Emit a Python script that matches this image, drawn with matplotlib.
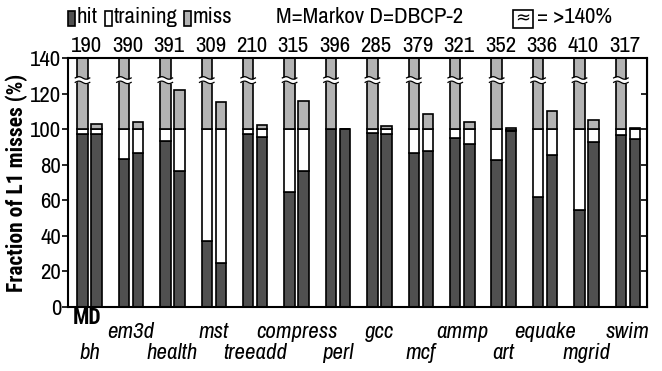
import numpy as np
import matplotlib
matplotlib.use('Agg')
import matplotlib.pyplot as plt
from matplotlib.patches import Rectangle

plt.rcParams['font.family'] = ['Archivo Narrow', 'Liberation Sans', 'DejaVu Sans']
BOLD_FAM = ['Roboto Condensed', 'PT Sans Narrow', 'Liberation Sans']

# ── data ─────────────────────────────────────────────
names = ["bh", "em3d", "health", "mst", "treeadd", "compress", "perl",
         "gcc", "mcf", "ammp", "art", "equake", "mgrid", "swim"]
m_total = [190, 390, 391, 309, 210, 315, 396, 285, 379, 321, 352, 336, 410, 317]
m_hit = [97.5, 83, 93.5, 37, 97.5, 64.5, 100, 98, 86.5, 95, 82.5, 62, 54.5, 96.5]
m_train = [2.5, 17, 6.5, 63, 2.5, 35.5, 0, 2, 13.5, 5, 17.5, 38, 45.5, 3.5]
d_hit = [97.5, 86.5, 76.5, 25, 95.5, 76.5, 100, 97.5, 87.5, 91.5, 99, 85.5, 92.5, 94.5]
d_train = [2.5, 13.5, 23.5, 75, 4.5, 23.5, 0, 2.5, 12.5, 8.5, 0.5, 14.5, 7.5, 5.5]
d_miss = [3, 4, 22, 15.5, 2.5, 16, 0, 1.7, 8.7, 4, 1.2, 10.2, 5, 0.6]

YMAX = 140
HIT_C = '#505050'
TRAIN_C = 'white'
MISS_C = '#b3b3b3'
FS = 16.5

W, H = 662, 371
fig = plt.figure(figsize=(W / 100, H / 100), dpi=100)
ax = fig.add_axes([68 / W, 1 - 307 / H, (647 - 68) / W, (307 - 58) / H])

x = np.arange(len(names))
off, bw = 0.17, 0.25
m_hit = np.array(m_hit)
m_train = np.array(m_train)
m_miss = np.array(m_total) - m_hit - m_train
d_hit = np.array(d_hit)
d_train = np.array(d_train)
d_miss = np.array(d_miss)

kw = dict(width=bw, edgecolor='black', linewidth=1.2, zorder=2)
for pos, hit, tr, ms in [(x - off, m_hit, m_train, m_miss), (x + off, d_hit, d_train, d_miss)]:
    ax.bar(pos, hit, color=HIT_C, **kw)
    ax.bar(pos, tr, bottom=hit, color=TRAIN_C, **kw)
    ax.bar(pos, ms, bottom=hit + tr, color=MISS_C, **kw)

# break marks on the clipped M bars
for xc in x - off:
    xs = np.linspace(xc - bw * 0.7, xc + bw * 0.7, 30)
    wave = 0.7 * np.sin((xs - xs[0]) / (xs[-1] - xs[0]) * 2 * np.pi)
    lo = 126.3 + wave
    hi = 128.8 + wave
    ax.fill_between(xs, lo, hi, color='white', zorder=3, linewidth=0)
    ax.plot(xs, lo, color='black', lw=0.9, zorder=4)
    ax.plot(xs, hi, color='black', lw=0.9, zorder=4)

ax.set_xlim(-0.52, 13.46)
ax.set_ylim(0, YMAX)
ax.set_yticks(range(0, 141, 20))
ax.tick_params(axis='y', direction='out', length=4, width=1.2, labelsize=FS, pad=1)
ax.set_xticks([])
for s in ax.spines.values():
    s.set_linewidth(1.5)
sec = ax.secondary_yaxis('right')
sec.set_yticks(range(0, 141, 20))
sec.tick_params(direction='in', length=4, width=1.2, labelright=False)

ax.set_ylabel('Fraction of L1 misses (%)', fontsize=15.5, fontweight='bold',
              family=BOLD_FAM, labelpad=1)

# totals above the plot
for xi, t in zip(x, m_total):
    ax.text(xi - 0.08, YMAX + 1.0, str(t), ha='center', va='bottom', fontsize=FS)

# benchmark names, two staggered rows
tr = ax.get_xaxis_transform()
ax.text(-0.05, -0.045, 'MD', transform=tr, ha='center', va='center',
        fontsize=15.5, fontweight='bold', family=BOLD_FAM)
for xi, n in zip(x, names):
    yy = -0.185 if xi % 2 == 0 else -0.10
    ax.text(xi, yy, n, transform=tr, ha='center', va='center', fontsize=FS, style='italic')

# legend row
def fx(px):
    return px / W

def fy(py):
    return 1 - py / H

ytxt = fy(17)
for x0, col, lab in [(68, HIT_C, 'hit'), (105, TRAIN_C, 'training'), (184, MISS_C, 'miss')]:
    fig.patches.append(Rectangle((fx(x0), fy(26)), fx(7), 15 / H, facecolor=col,
                                 edgecolor='black', linewidth=1.2, transform=fig.transFigure))
    fig.text(fx(x0 + 9), ytxt, lab, ha='left', va='center', fontsize=FS)
fig.text(fx(276), ytxt, 'M=Markov D=DBCP-2', ha='left', va='center', fontsize=FS)
fig.patches.append(Rectangle((fx(513), fy(28)), fx(20), 18 / H, facecolor='white',
                             edgecolor='black', linewidth=1.2, transform=fig.transFigure))
fig.text(fx(523), fy(18), '\u2248', ha='center', va='center', fontsize=13,
         family=['DejaVu Sans'])
fig.text(fx(537), ytxt, '= >140%', ha='left', va='center', fontsize=FS)

fig.savefig('out.png', dpi=100)
